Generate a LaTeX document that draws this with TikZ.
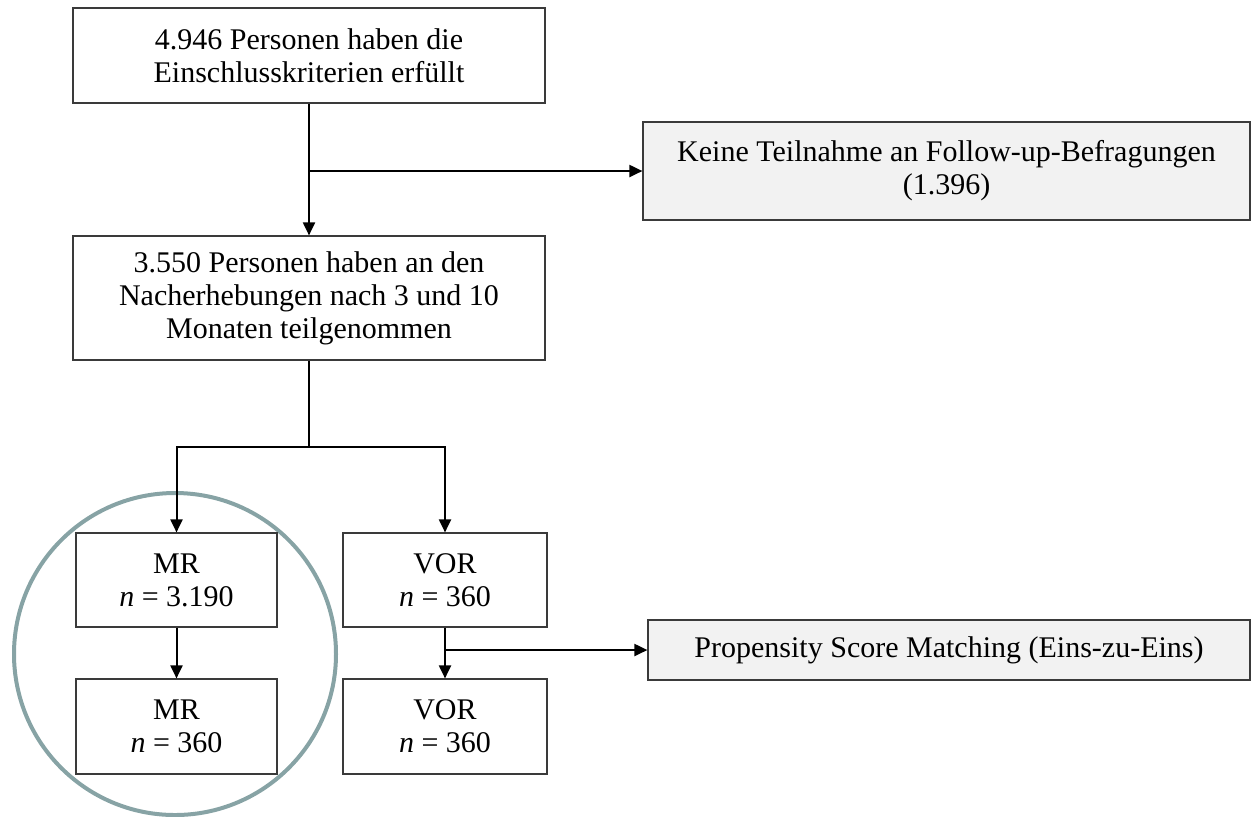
\documentclass[tikz,border=0pt]{standalone}
\usepackage{fontspec}
\setmainfont{Liberation Serif}
\usetikzlibrary{arrows.meta}
\definecolor{ringcol}{HTML}{87A3A5}
\definecolor{boxgray}{HTML}{F2F2F2}
\definecolor{edgecol}{HTML}{3A3A3A}
\begin{document}
\begin{tikzpicture}[x=0.5pt,y=-0.5pt,
  box/.style={draw=edgecol, line width=0.6pt, fill=white, align=center, inner sep=0pt,
    font=\fontsize{15}{16.5}\selectfont},
  graybox/.style={box, fill=boxgray},
  arr/.style={line width=1pt, -{Triangle[length=6.5pt,width=6pt]}},
  ln/.style={line width=1pt}]
\useasboundingbox (0,0) rectangle (1251,816);
\draw[ringcol, line width=2pt] (175,654) circle[radius=161];
\node[box, minimum width=236pt, minimum height=47.5pt] (b1) at (309,55.5)
  {4.946 Personen haben die\\Einschlusskriterien erfüllt};
\node[graybox, minimum width=303.5pt, minimum height=49pt] (k) at (946.5,171)
  {Keine Teilnahme an Follow-up-Befragungen\\(1.396)};
\node[box, minimum width=236pt, minimum height=62pt] (b2) at (309,298)
  {3.550 Personen haben an den\\Nacherhebungen nach 3 und 10\\Monaten teilgenommen};
\node[box, minimum width=100.5pt, minimum height=47pt] (mr1) at (176.5,580)
  {MR\\\textit{n} = 3.190};
\node[box, minimum width=100.5pt, minimum height=47.5pt] (mr2) at (176.5,726.5)
  {MR\\\textit{n} = 360};
\node[box, minimum width=102pt, minimum height=47pt] (vor1) at (445,580)
  {VOR\\\textit{n} = 360};
\node[box, minimum width=102pt, minimum height=47.5pt] (vor2) at (445,726.5)
  {VOR\\\textit{n} = 360};
\node[graybox, minimum width=301pt, minimum height=30pt] (p) at (949,650)
  {Propensity Score Matching (Eins-zu-Eins)};
\coordinate (sp) at (309,447);
\draw[arr] (b1.south) -- (b2.north);
\draw[arr] (b1.south |- k.west) -- (k.west);
\draw[ln] (b2.south) -- (sp);
\draw[arr] (sp) -| (mr1.north);
\draw[arr] (sp) -| (vor1.north);
\draw[arr] (mr1.south) -- (mr2.north);
\draw[arr] (vor1.south) -- (vor2.north);
\draw[arr] (vor1.south |- p.west) -- (p.west);
\end{tikzpicture}
\end{document}
